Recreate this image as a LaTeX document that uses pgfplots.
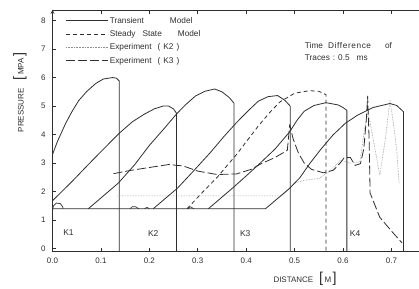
\documentclass[border=0pt]{standalone}
\usepackage{fontspec}
\setmainfont{Liberation Sans}
\usepackage{pgfplots}
\pgfplotsset{compat=1.18}
\definecolor{ink}{gray}{0.18}
\definecolor{lightink}{gray}{0.55}
\begin{document}
\fontsize{8}{9.6}\selectfont
\begin{tikzpicture}
\path[use as bounding box] (-52.5bp,-37bp) rectangle (366.5bp,251.5bp);
\begin{axis}[
 scale only axis, width=366.5bp, height=241.5bp,
 xmin=0, xmax=0.757, ymin=-0.1, ymax=8.37,
 axis x line=box, axis y line=left,
 every non boxed y axis/.append style={y axis line style={-}},
 axis line style={ink, line width=0.7bp},
 major tick style={ink, line width=0.6bp},
 major tick length=4bp,
 tick align=inside, ytick align=inside, xtick align=inside,
 xtick={0,0.1,0.2,0.3,0.4,0.5,0.6,0.7},
 ytick={0,1,2,3,4,5,6,7,8},
 /pgf/number format/assume math mode=true,
 xticklabel style={/pgf/number format/.cd, fixed, fixed zerofill, precision=1, /tikz/.cd, font=\fontsize{8}{9}\selectfont, yshift=-4bp, text=ink},
 yticklabel style={font=\fontsize{8}{9}\selectfont, xshift=-4bp, text=ink},
 legend style={draw=none, fill=none, at={(0.035,0.978)}, anchor=north west, inner sep=0pt, row sep=3.2bp, font=\fontsize{8.3}{9.5}\selectfont, text=ink, nodes={inner sep=1.5bp}},
 legend cell align=left,
 legend image code/.code={\draw[#1] (0bp,0bp) -- (42bp,0bp);},
 every axis plot/.append style={line join=round},
]
% Transient model trace 1 (legend)
\addplot[ink, line width=0.8bp] coordinates {(0,3.3) (0.01,3.75) (0.027,4.39) (0.04,4.8) (0.054,5.19) (0.07,5.5) (0.089,5.79) (0.105,5.95) (0.124,6.0) (0.132,5.98) (0.138,5.88) (0.138,-0.1)};
\addlegendentry{Transient\hspace{26bp}Model}
% Steady state model
\addplot[ink, line width=0.8bp, dash pattern=on 4bp off 3bp] coordinates {(0.278,1.4) (0.31,1.98) (0.34,2.5) (0.38,3.3) (0.425,4.3) (0.45,4.8) (0.47,5.15) (0.5,5.45) (0.53,5.54) (0.55,5.52) (0.565,5.4) (0.565,-0.1)};
\addlegendentry{Steady\hspace{7bp}State\hspace{16bp}Model}
% Experiment K2
\addplot[lightink, line width=0.6bp, densely dotted] coordinates {(0.134,1.85) (0.475,1.85) (0.50,2.3) (0.52,2.4) (0.55,2.46) (0.575,2.75) (0.595,3.1) (0.615,3.0) (0.635,3.05) (0.645,4.25) (0.652,4.8) (0.665,3.6) (0.676,2.56) (0.688,3.9) (0.697,5.2) (0.705,4.3) (0.711,3.44) (0.716,2.28)};
\addlegendentry{Experiment\hspace{6bp}(\hspace{3bp}K2\hspace{3bp})}
% Experiment K3
\addplot[ink, line width=0.8bp, dash pattern=on 9bp off 3bp] coordinates {(0.126,2.63) (0.16,2.74) (0.19,2.82) (0.24,2.95) (0.27,2.9) (0.3,2.72) (0.34,2.6) (0.38,2.62) (0.41,2.78) (0.43,2.97) (0.46,3.2) (0.485,3.45) (0.49,4.35) (0.497,3.85) (0.508,3.35) (0.52,3.0) (0.535,2.78) (0.56,2.66) (0.58,2.75) (0.594,3.0) (0.603,3.2) (0.615,3.2) (0.625,2.92) (0.636,2.98) (0.643,3.5) (0.648,4.5) (0.651,5.35) (0.654,3.8) (0.656,1.95) (0.676,1.1) (0.70,0.62) (0.722,0.2)};
\addlegendentry{Experiment\hspace{6bp}(\hspace{3bp}K3\hspace{3bp})}
% other transient traces
\addplot[ink, line width=0.8bp, forget plot] coordinates {(0,1.68) (0.04,2.35) (0.074,2.95) (0.1,3.4) (0.138,4.05) (0.165,4.45) (0.19,4.72) (0.21,4.9) (0.228,5.0) (0.24,5.0) (0.25,4.9) (0.256,4.75) (0.256,-0.1)};
\addplot[ink, line width=0.8bp, forget plot] coordinates {(0.074,1.4) (0.105,1.85) (0.136,2.3) (0.17,2.95) (0.2,3.62) (0.23,4.2) (0.256,4.72) (0.275,5.05) (0.295,5.35) (0.315,5.52) (0.335,5.6) (0.35,5.5) (0.365,5.3) (0.375,5.1) (0.375,-0.1)};
\addplot[ink, line width=0.8bp, forget plot] coordinates {(0.208,1.4) (0.258,2.12) (0.29,2.7) (0.326,3.37) (0.355,3.95) (0.38,4.42) (0.405,4.85) (0.425,5.17) (0.445,5.33) (0.465,5.37) (0.48,5.2) (0.491,5.0) (0.491,-0.1)};
\addplot[ink, line width=0.8bp, forget plot] coordinates {(0.322,1.4) (0.373,2.14) (0.40,2.55) (0.429,3.0) (0.46,3.5) (0.49,4.1) (0.505,4.5) (0.52,4.82) (0.54,5.02) (0.565,5.12) (0.59,5.04) (0.6,4.95) (0.608,4.85) (0.608,-0.1)};
\addplot[ink, line width=0.8bp, forget plot] coordinates {(0,1.4) (0.44,1.4) (0.49,2.12) (0.511,2.49) (0.532,3.0) (0.555,3.5) (0.579,3.98) (0.605,4.4) (0.629,4.67) (0.662,4.95) (0.697,5.09) (0.711,5.02) (0.725,4.8) (0.725,-0.1)};
% small experimental bumps near baseline
\addplot[ink, line width=0.7bp, forget plot] coordinates {(0.0,1.35) (0.002,1.5) (0.008,1.6) (0.016,1.58) (0.021,1.47) (0.022,1.4)};
\addplot[ink, line width=0.6bp, forget plot] coordinates {(0.16,1.4) (0.165,1.47) (0.172,1.47) (0.178,1.4)};
\addplot[ink, line width=0.6bp, forget plot] coordinates {(0.19,1.4) (0.195,1.45) (0.2,1.4)};
\addplot[ink, line width=0.6bp, forget plot] coordinates {(0.28,1.4) (0.285,1.47) (0.292,1.4)};
% region labels
\node[text=ink, font=\fontsize{8.5}{10}\selectfont] at (axis cs:0.033,0.56) {K1};
\node[text=ink, font=\fontsize{8.5}{10}\selectfont] at (axis cs:0.208,0.53) {K2};
\node[text=ink, font=\fontsize{8.5}{10}\selectfont] at (axis cs:0.398,0.53) {K3};
\node[text=ink, font=\fontsize{8.5}{10}\selectfont] at (axis cs:0.625,0.53) {K4};
\node[anchor=west, align=left, text=ink, inner sep=0pt, font=\fontsize{8.3}{12}\selectfont] at (axis cs:0.521,6.91) {Time\hspace{5bp}D\hspace{0.6bp}i\hspace{0.6bp}f\hspace{0.6bp}f\hspace{0.6bp}e\hspace{0.6bp}r\hspace{0.6bp}e\hspace{0.6bp}n\hspace{0.6bp}c\hspace{0.6bp}e\hspace{14bp}of\\Traces\hspace{3bp}:\hspace{3bp}0.5\hspace{7bp}ms};
\end{axis}
\node[rotate=90, text=ink, font=\fontsize{8}{9}\selectfont] at (-32.5bp,159bp) {PRESSURE\hspace{8bp}{\Large[}\,MPA\,{\Large]}};
\node[text=ink, font=\fontsize{8}{9}\selectfont] at (252.5bp,-27bp) {DISTANCE\hspace{6bp}{\Large[}\,M\,{\Large]}};
\end{tikzpicture}
\end{document}
